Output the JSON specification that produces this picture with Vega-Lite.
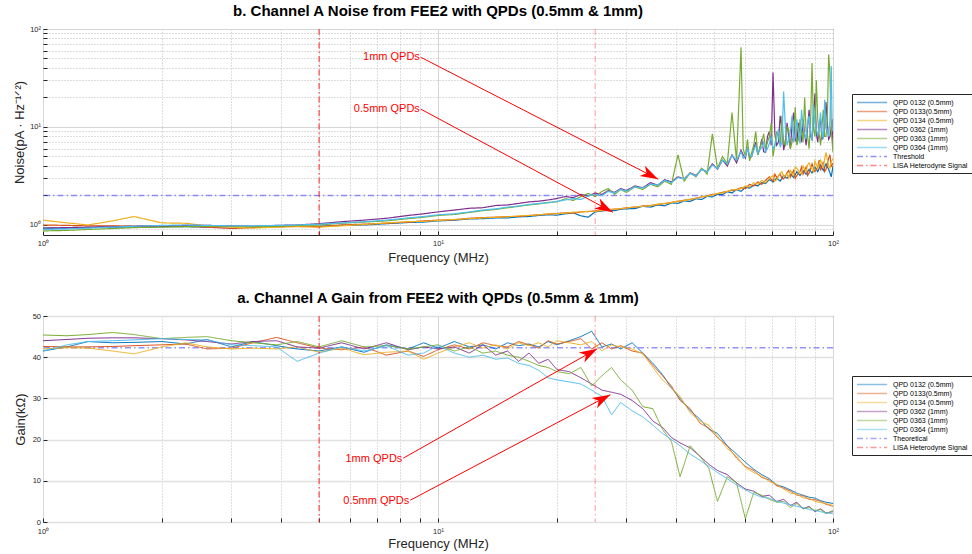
{
"$schema":"https://vega.github.io/schema/vega-lite/v6.json",
"background":"white",
"padding":{"left":12,"top":3,"right":0,"bottom":0},
"config":{
 "font":"Liberation Sans",
 "view":{"stroke":"#262626","strokeWidth":1},
 "title":{"fontSize":15,"fontWeight":"bold","anchor":"middle","offset":6,"color":"black","font":"Liberation Sans"},
 "legend":{"symbolType":"M-1,0H7.6","symbolSize":49,"symbolStrokeWidth":1.5,"labelFontSize":7,"labelOffset":28,"rowPadding":1,"padding":4,"strokeColor":"#262626","fillColor":"white","labelColor":"black","labelFont":"Liberation Sans"}
},
"datasets":{
"tb":[{"f":1,"v":0.93},{"f":1.15,"v":0.93},{"f":1.3,"v":0.94},{"f":1.5,"v":0.95},{"f":1.7,"v":0.95},{"f":2,"v":0.96},{"f":2.3,"v":0.96},{"f":2.6,"v":0.95},{"f":3,"v":0.96},{"f":3.4,"v":0.95},{"f":3.9,"v":0.96},{"f":4.4,"v":0.97},{"f":5,"v":0.97},{"f":5.7,"v":0.99},{"f":6.5,"v":1.0},{"f":7.4,"v":1.03},{"f":8.4,"v":1.06},{"f":9.2,"v":1.07},{"f":10,"v":1.1},{"f":11,"v":1.12},{"f":12,"v":1.15},{"f":13,"v":1.16},{"f":14,"v":1.18},{"f":15,"v":1.18},{"f":16,"v":1.21},{"f":17,"v":1.22},{"f":18,"v":1.25},{"f":19,"v":1.27},{"f":20,"v":1.26},{"f":21,"v":1.3},{"f":22,"v":1.33},{"f":23,"v":1.24},{"f":24,"v":1.2},{"f":25,"v":1.36},{"f":26,"v":1.39},{"f":27,"v":1.41},{"f":28,"v":1.4},{"f":29,"v":1.45},{"f":30,"v":1.46},{"f":31.5,"v":1.47},{"f":33,"v":1.55},{"f":34.5,"v":1.52},{"f":36,"v":1.6},{"f":37.5,"v":1.57},{"f":39,"v":1.68},{"f":40.5,"v":1.66},{"f":42,"v":1.76},{"f":43.5,"v":1.74},{"f":45,"v":1.85},{"f":46.5,"v":1.82},{"f":48,"v":1.96},{"f":49.5,"v":1.93},{"f":51,"v":2.06},{"f":52.5,"v":2.04},{"f":54,"v":2.18},{"f":55.5,"v":2.12},{"f":57,"v":2.3},{"f":58.5,"v":2.2},{"f":60,"v":2.42},{"f":61.5,"v":2.38},{"f":63,"v":2.55},{"f":64.5,"v":2.5},{"f":66,"v":2.7},{"f":67.5,"v":2.65},{"f":69,"v":2.9},{"f":70.5,"v":2.75},{"f":72,"v":3.0},{"f":73.5,"v":2.8},{"f":75,"v":3.2},{"f":76.5,"v":3.0},{"f":78,"v":3.3},{"f":79.5,"v":3.05},{"f":81,"v":3.5},{"f":82.5,"v":3.2},{"f":84,"v":3.6},{"f":85.5,"v":3.3},{"f":87,"v":3.7},{"f":88.5,"v":3.4},{"f":90,"v":3.9},{"f":91.5,"v":3.5},{"f":93,"v":4.1},{"f":94.5,"v":3.6},{"f":96,"v":4.2},{"f":97.5,"v":3.7},{"f":99,"v":3.1},{"f":100,"v":4.0}],
"to":[{"f":1,"v":1.0},{"f":1.15,"v":0.99},{"f":1.3,"v":0.98},{"f":1.5,"v":0.98},{"f":1.7,"v":0.97},{"f":2,"v":0.98},{"f":2.3,"v":0.97},{"f":2.6,"v":0.95},{"f":3,"v":0.92},{"f":3.4,"v":0.94},{"f":3.9,"v":0.96},{"f":4.4,"v":0.97},{"f":5,"v":0.96},{"f":5.7,"v":1.0},{"f":6.5,"v":1.02},{"f":7.4,"v":1.04},{"f":8.4,"v":1.07},{"f":9.2,"v":1.1},{"f":10,"v":1.12},{"f":11,"v":1.13},{"f":12,"v":1.17},{"f":13,"v":1.19},{"f":14,"v":1.2},{"f":15,"v":1.22},{"f":16,"v":1.22},{"f":17,"v":1.25},{"f":18,"v":1.27},{"f":19,"v":1.29},{"f":20,"v":1.31},{"f":21,"v":1.33},{"f":22,"v":1.32},{"f":23,"v":1.36},{"f":24,"v":1.37},{"f":25,"v":1.39},{"f":26,"v":1.4},{"f":27,"v":1.43},{"f":28,"v":1.45},{"f":29,"v":1.46},{"f":30,"v":1.5},{"f":31.5,"v":1.52},{"f":33,"v":1.56},{"f":34.5,"v":1.58},{"f":36,"v":1.62},{"f":37.5,"v":1.65},{"f":39,"v":1.7},{"f":40.5,"v":1.74},{"f":42,"v":1.79},{"f":43.5,"v":1.82},{"f":45,"v":1.88},{"f":46.5,"v":1.93},{"f":48,"v":1.98},{"f":49.5,"v":2.05},{"f":51,"v":2.08},{"f":52.5,"v":2.15},{"f":54,"v":2.2},{"f":55.5,"v":2.25},{"f":57,"v":2.3},{"f":58.5,"v":2.4},{"f":60,"v":2.35},{"f":61.5,"v":2.6},{"f":63,"v":2.5},{"f":64.5,"v":2.75},{"f":66,"v":2.6},{"f":67.5,"v":2.85},{"f":69,"v":3.1},{"f":70.5,"v":2.8},{"f":72,"v":3.05},{"f":73.5,"v":3.3},{"f":75,"v":2.95},{"f":76.5,"v":3.4},{"f":78,"v":3.1},{"f":79.5,"v":3.6},{"f":81,"v":3.2},{"f":82.5,"v":3.5},{"f":84,"v":3.3},{"f":85.5,"v":3.9},{"f":87,"v":3.4},{"f":88.5,"v":4.2},{"f":90,"v":3.5},{"f":91.5,"v":3.9},{"f":93,"v":3.6},{"f":94.5,"v":4.4},{"f":96,"v":3.7},{"f":97.5,"v":4.8},{"f":99,"v":3.9},{"f":100,"v":4.3},{"f":71.25,"v":3.3},{"f":74.25,"v":3.0},{"f":77.25,"v":3.6},{"f":80.25,"v":3.0},{"f":83.25,"v":3.9},{"f":86.25,"v":3.2},{"f":89.25,"v":3.8},{"f":92.25,"v":4.6},{"f":95.25,"v":3.5},{"f":98.25,"v":5.2}],
"ty":[{"f":1,"v":1.12},{"f":1.15,"v":1.05},{"f":1.3,"v":1.0},{"f":1.5,"v":1.1},{"f":1.7,"v":1.22},{"f":2,"v":1.05},{"f":2.3,"v":1.04},{"f":2.6,"v":0.98},{"f":3,"v":0.95},{"f":3.4,"v":0.93},{"f":3.9,"v":0.95},{"f":4.4,"v":0.96},{"f":5,"v":0.95},{"f":5.7,"v":0.98},{"f":6.5,"v":1.01},{"f":7.4,"v":1.05},{"f":8.4,"v":1.08},{"f":9.2,"v":1.09},{"f":10,"v":1.11},{"f":11,"v":1.14},{"f":12,"v":1.16},{"f":13,"v":1.18},{"f":14,"v":1.2},{"f":15,"v":1.21},{"f":16,"v":1.24},{"f":17,"v":1.25},{"f":18,"v":1.27},{"f":19,"v":1.3},{"f":20,"v":1.3},{"f":21,"v":1.32},{"f":22,"v":1.35},{"f":23,"v":1.36},{"f":24,"v":1.38},{"f":25,"v":1.38},{"f":26,"v":1.41},{"f":27,"v":1.44},{"f":28,"v":1.44},{"f":29,"v":1.47},{"f":30,"v":1.49},{"f":31.5,"v":1.53},{"f":33,"v":1.55},{"f":34.5,"v":1.57},{"f":36,"v":1.63},{"f":37.5,"v":1.66},{"f":39,"v":1.69},{"f":40.5,"v":1.75},{"f":42,"v":1.77},{"f":43.5,"v":1.83},{"f":45,"v":1.87},{"f":46.5,"v":1.95},{"f":48,"v":1.97},{"f":49.5,"v":2.02},{"f":51,"v":2.1},{"f":52.5,"v":2.12},{"f":54,"v":2.2},{"f":55.5,"v":2.3},{"f":57,"v":2.28},{"f":58.5,"v":2.35},{"f":60,"v":2.5},{"f":61.5,"v":2.45},{"f":63,"v":2.7},{"f":64.5,"v":2.6},{"f":66,"v":2.85},{"f":67.5,"v":2.7},{"f":69,"v":3.0},{"f":70.5,"v":3.2},{"f":72,"v":2.9},{"f":73.5,"v":3.4},{"f":75,"v":3.1},{"f":76.5,"v":3.3},{"f":78,"v":3.6},{"f":79.5,"v":3.2},{"f":81,"v":3.8},{"f":82.5,"v":3.4},{"f":84,"v":4.0},{"f":85.5,"v":3.5},{"f":87,"v":4.3},{"f":88.5,"v":3.7},{"f":90,"v":4.5},{"f":91.5,"v":3.8},{"f":93,"v":4.6},{"f":94.5,"v":3.9},{"f":96,"v":5.5},{"f":97.5,"v":4.0},{"f":99,"v":4.4},{"f":100,"v":4.8},{"f":71.25,"v":2.8},{"f":74.25,"v":3.5},{"f":77.25,"v":3.0},{"f":80.25,"v":3.9},{"f":83.25,"v":3.3},{"f":86.25,"v":4.1},{"f":89.25,"v":3.5},{"f":92.25,"v":4.2},{"f":95.25,"v":4.7},{"f":98.25,"v":3.8}],
"tp":[{"f":1,"v":0.93},{"f":1.15,"v":0.94},{"f":1.3,"v":0.95},{"f":1.5,"v":0.96},{"f":1.7,"v":0.97},{"f":2,"v":0.98},{"f":2.3,"v":0.99},{"f":2.6,"v":0.99},{"f":3,"v":0.98},{"f":3.4,"v":0.97},{"f":3.9,"v":0.99},{"f":4.4,"v":1.0},{"f":5,"v":1.03},{"f":5.7,"v":1.08},{"f":6.5,"v":1.12},{"f":7.4,"v":1.17},{"f":8.4,"v":1.25},{"f":9.2,"v":1.3},{"f":10,"v":1.36},{"f":11,"v":1.42},{"f":12,"v":1.48},{"f":13,"v":1.5},{"f":14,"v":1.58},{"f":15,"v":1.6},{"f":16,"v":1.66},{"f":17,"v":1.72},{"f":18,"v":1.75},{"f":19,"v":1.8},{"f":20,"v":1.86},{"f":21,"v":1.95},{"f":22,"v":1.9},{"f":23,"v":2.05},{"f":24,"v":1.98},{"f":25,"v":2.12},{"f":26,"v":2.05},{"f":27,"v":2.25},{"f":28,"v":2.15},{"f":29,"v":2.35},{"f":30,"v":2.25},{"f":31.5,"v":2.5},{"f":33,"v":2.4},{"f":34.5,"v":2.7},{"f":36,"v":2.55},{"f":37.5,"v":2.9},{"f":39,"v":2.75},{"f":40.5,"v":3.1},{"f":42,"v":2.95},{"f":43.5,"v":3.4},{"f":45,"v":3.2},{"f":46.5,"v":3.7},{"f":48,"v":3.5},{"f":49.5,"v":4.2},{"f":51,"v":3.7},{"f":52.5,"v":4.6},{"f":54,"v":4.0},{"f":55.5,"v":5.2},{"f":57,"v":4.3},{"f":58.5,"v":5.8},{"f":60,"v":4.8},{"f":61.5,"v":4.8},{"f":63,"v":6.0},{"f":64.5,"v":5.2},{"f":66,"v":7.5},{"f":67.5,"v":5.5},{"f":69,"v":9.0},{"f":70.5,"v":36.0},{"f":72,"v":6.5},{"f":73.5,"v":13.0},{"f":75,"v":5.8},{"f":76.5,"v":11.0},{"f":78,"v":6.0},{"f":79.5,"v":14.0},{"f":81,"v":6.8},{"f":82.5,"v":9.0},{"f":84,"v":12.0},{"f":85.5,"v":6.5},{"f":87,"v":15.0},{"f":88.5,"v":7.5},{"f":90,"v":22.0},{"f":91.5,"v":7.0},{"f":93,"v":12.0},{"f":94.5,"v":8.0},{"f":96,"v":18.0},{"f":97.5,"v":7.5},{"f":99,"v":10.0},{"f":100,"v":6.0},{"f":59.25,"v":5.2},{"f":60.75,"v":6.2},{"f":62.25,"v":5.0},{"f":63.75,"v":7.0},{"f":65.25,"v":6.0},{"f":66.75,"v":5.6},{"f":68.25,"v":8.0},{"f":69.75,"v":6.5},{"f":71.25,"v":8.5},{"f":72.75,"v":7.0},{"f":74.25,"v":9.5},{"f":75.75,"v":7.2},{"f":77.25,"v":8.0},{"f":78.75,"v":10.5},{"f":80.25,"v":7.5},{"f":81.75,"v":11.0},{"f":83.25,"v":7.0},{"f":84.75,"v":8.5},{"f":86.25,"v":10.0},{"f":87.75,"v":8.0},{"f":89.25,"v":13.0},{"f":90.75,"v":8.5},{"f":92.25,"v":10.5},{"f":93.75,"v":7.5},{"f":95.25,"v":9.5},{"f":96.75,"v":11.0},{"f":98.25,"v":8.0},{"f":99.5,"v":12.0}],
"tg":[{"f":1,"v":0.87},{"f":1.15,"v":0.88},{"f":1.3,"v":0.9},{"f":1.5,"v":0.92},{"f":1.7,"v":0.94},{"f":2,"v":0.95},{"f":2.3,"v":0.96},{"f":2.6,"v":0.97},{"f":3,"v":0.97},{"f":3.4,"v":0.96},{"f":3.9,"v":0.97},{"f":4.4,"v":0.99},{"f":5,"v":1.0},{"f":5.7,"v":1.04},{"f":6.5,"v":1.07},{"f":7.4,"v":1.1},{"f":8.4,"v":1.16},{"f":9.2,"v":1.2},{"f":10,"v":1.25},{"f":11,"v":1.28},{"f":12,"v":1.34},{"f":13,"v":1.4},{"f":14,"v":1.44},{"f":15,"v":1.5},{"f":16,"v":1.55},{"f":17,"v":1.6},{"f":18,"v":1.64},{"f":19,"v":1.7},{"f":20,"v":1.72},{"f":21,"v":1.85},{"f":22,"v":1.78},{"f":23,"v":1.95},{"f":24,"v":2.1},{"f":25,"v":1.95},{"f":26,"v":2.2},{"f":27,"v":2.35},{"f":28,"v":2.05},{"f":29,"v":2.3},{"f":30,"v":2.15},{"f":31.5,"v":2.45},{"f":33,"v":2.3},{"f":34.5,"v":2.6},{"f":36,"v":2.45},{"f":37.5,"v":2.8},{"f":39,"v":2.6},{"f":40.5,"v":5.2},{"f":42,"v":2.8},{"f":43.5,"v":3.4},{"f":45,"v":3.1},{"f":46.5,"v":3.8},{"f":48,"v":3.3},{"f":49.5,"v":8.5},{"f":51,"v":3.8},{"f":52.5,"v":5.0},{"f":54,"v":4.2},{"f":55.5,"v":14.0},{"f":57,"v":4.5},{"f":58.5,"v":65.0},{"f":60,"v":5.0},{"f":61.5,"v":4.5},{"f":63,"v":6.5},{"f":64.5,"v":5.2},{"f":66,"v":7.0},{"f":67.5,"v":6.0},{"f":69,"v":8.0},{"f":70.5,"v":5.0},{"f":72,"v":9.0},{"f":73.5,"v":6.5},{"f":75,"v":7.0},{"f":76.5,"v":10.0},{"f":78,"v":6.0},{"f":79.5,"v":8.5},{"f":81,"v":6.5},{"f":82.5,"v":12.0},{"f":84,"v":7.0},{"f":85.5,"v":9.0},{"f":87,"v":6.0},{"f":88.5,"v":45.0},{"f":90,"v":8.0},{"f":91.5,"v":12.0},{"f":93,"v":6.5},{"f":94.5,"v":15.0},{"f":96,"v":8.0},{"f":97.5,"v":55.0},{"f":99,"v":9.0},{"f":100,"v":5.5},{"f":59.25,"v":6.0},{"f":60.75,"v":7.5},{"f":62.25,"v":5.5},{"f":63.75,"v":9.0},{"f":65.25,"v":6.0},{"f":66.75,"v":8.5},{"f":68.25,"v":7.0},{"f":69.75,"v":11.0},{"f":71.25,"v":6.5},{"f":72.75,"v":8.0},{"f":74.25,"v":13.0},{"f":75.75,"v":6.5},{"f":77.25,"v":9.5},{"f":78.75,"v":7.0},{"f":80.25,"v":16.0},{"f":81.75,"v":7.5},{"f":83.25,"v":9.0},{"f":84.75,"v":20.0},{"f":86.25,"v":8.0},{"f":87.75,"v":11.0},{"f":89.25,"v":9.5},{"f":90.75,"v":30.0},{"f":92.25,"v":8.5},{"f":93.75,"v":10.0},{"f":95.25,"v":8.0},{"f":96.75,"v":12.0},{"f":98.25,"v":35.0},{"f":99.5,"v":7.0}],
"tc":[{"f":1,"v":0.9},{"f":1.15,"v":0.91},{"f":1.3,"v":0.93},{"f":1.5,"v":0.95},{"f":1.7,"v":0.97},{"f":2,"v":0.99},{"f":2.3,"v":1.0},{"f":2.6,"v":0.99},{"f":3,"v":0.98},{"f":3.4,"v":0.98},{"f":3.9,"v":0.99},{"f":4.4,"v":1.0},{"f":5,"v":1.02},{"f":5.7,"v":1.05},{"f":6.5,"v":1.08},{"f":7.4,"v":1.12},{"f":8.4,"v":1.18},{"f":9.2,"v":1.22},{"f":10,"v":1.27},{"f":11,"v":1.3},{"f":12,"v":1.36},{"f":13,"v":1.42},{"f":14,"v":1.46},{"f":15,"v":1.52},{"f":16,"v":1.56},{"f":17,"v":1.62},{"f":18,"v":1.66},{"f":19,"v":1.68},{"f":20,"v":1.74},{"f":21,"v":1.8},{"f":22,"v":1.86},{"f":23,"v":1.82},{"f":24,"v":1.98},{"f":25,"v":2.05},{"f":26,"v":2.0},{"f":27,"v":2.2},{"f":28,"v":2.12},{"f":29,"v":2.3},{"f":30,"v":2.22},{"f":31.5,"v":2.45},{"f":33,"v":2.38},{"f":34.5,"v":2.62},{"f":36,"v":2.55},{"f":37.5,"v":2.85},{"f":39,"v":2.7},{"f":40.5,"v":3.05},{"f":42,"v":2.95},{"f":43.5,"v":3.35},{"f":45,"v":3.15},{"f":46.5,"v":3.7},{"f":48,"v":3.45},{"f":49.5,"v":4.1},{"f":51,"v":3.75},{"f":52.5,"v":4.6},{"f":54,"v":4.2},{"f":55.5,"v":5.1},{"f":57,"v":4.6},{"f":58.5,"v":5.6},{"f":60,"v":5.0},{"f":61.5,"v":5.2},{"f":63,"v":5.8},{"f":64.5,"v":5.4},{"f":66,"v":6.2},{"f":67.5,"v":5.6},{"f":69,"v":6.8},{"f":70.5,"v":6.0},{"f":72,"v":7.5},{"f":73.5,"v":6.2},{"f":75,"v":23.0},{"f":76.5,"v":6.5},{"f":78,"v":9.0},{"f":79.5,"v":7.0},{"f":81,"v":12.0},{"f":82.5,"v":6.8},{"f":84,"v":10.0},{"f":85.5,"v":7.5},{"f":87,"v":13.0},{"f":88.5,"v":7.2},{"f":90,"v":11.0},{"f":91.5,"v":8.0},{"f":93,"v":14.0},{"f":94.5,"v":7.5},{"f":96,"v":10.0},{"f":97.5,"v":8.0},{"f":99,"v":42.0},{"f":100,"v":9.0},{"f":59.25,"v":4.8},{"f":60.75,"v":6.0},{"f":62.25,"v":5.0},{"f":63.75,"v":6.5},{"f":65.25,"v":5.8},{"f":66.75,"v":7.0},{"f":68.25,"v":6.0},{"f":69.75,"v":8.0},{"f":71.25,"v":6.5},{"f":72.75,"v":9.5},{"f":74.25,"v":7.0},{"f":75.75,"v":10.0},{"f":77.25,"v":7.5},{"f":78.75,"v":13.0},{"f":80.25,"v":8.0},{"f":81.75,"v":9.0},{"f":83.25,"v":15.0},{"f":84.75,"v":8.5},{"f":86.25,"v":11.0},{"f":87.75,"v":9.0},{"f":89.25,"v":17.0},{"f":90.75,"v":9.5},{"f":92.25,"v":10.0},{"f":93.75,"v":9.0},{"f":95.25,"v":19.0},{"f":96.75,"v":9.0},{"f":98.25,"v":12.0},{"f":99.5,"v":10.0}],
"gb":[{"f":1,"v":41.5},{"f":1.15,"v":42.5},{"f":1.3,"v":43.8},{"f":1.5,"v":43.5},{"f":1.7,"v":43.6},{"f":2,"v":43.8},{"f":2.3,"v":43.2},{"f":2.6,"v":44.3},{"f":3,"v":42.5},{"f":3.4,"v":43.8},{"f":3.9,"v":42.8},{"f":4.4,"v":42.0},{"f":5,"v":41.5},{"f":5.7,"v":42.5},{"f":6.5,"v":41.2},{"f":7.4,"v":43.0},{"f":8.4,"v":42.0},{"f":9.2,"v":43.5},{"f":10,"v":42.2},{"f":11,"v":43.8},{"f":12,"v":42.5},{"f":13,"v":43.0},{"f":14,"v":42.0},{"f":15,"v":43.5},{"f":16,"v":42.8},{"f":17,"v":43.2},{"f":18,"v":42.5},{"f":19,"v":43.8},{"f":20,"v":43.0},{"f":21.5,"v":44.0},{"f":23,"v":45.0},{"f":24.5,"v":46.3},{"f":26,"v":42.5},{"f":27.5,"v":43.2},{"f":29,"v":42.0},{"f":31,"v":43.5},{"f":33,"v":41.0},{"f":35,"v":38.5},{"f":37,"v":35.8},{"f":39,"v":32.5},{"f":41,"v":30.0},{"f":43.5,"v":27.0},{"f":46,"v":25.0},{"f":48.5,"v":22.5},{"f":51,"v":21.5},{"f":54,"v":18.5},{"f":57,"v":16.5},{"f":60,"v":14.5},{"f":63,"v":12.8},{"f":66,"v":11.5},{"f":69,"v":10.5},{"f":72,"v":9.0},{"f":75,"v":8.5},{"f":78,"v":7.8},{"f":81,"v":7.0},{"f":84,"v":6.5},{"f":87,"v":6.0},{"f":90,"v":5.8},{"f":93,"v":5.2},{"f":96,"v":4.8},{"f":100,"v":4.5}],
"go":[{"f":1,"v":42.6},{"f":1.15,"v":42.5},{"f":1.3,"v":42.5},{"f":1.5,"v":42.6},{"f":1.7,"v":42.8},{"f":2,"v":43.0},{"f":2.3,"v":43.2},{"f":2.6,"v":42.0},{"f":3,"v":42.2},{"f":3.4,"v":43.5},{"f":3.9,"v":44.8},{"f":4.4,"v":43.5},{"f":5,"v":42.2},{"f":5.7,"v":41.8},{"f":6.5,"v":42.5},{"f":7.4,"v":40.5},{"f":8.4,"v":41.5},{"f":9.2,"v":40.2},{"f":10,"v":41.8},{"f":11,"v":43.0},{"f":12,"v":42.0},{"f":13,"v":43.5},{"f":14,"v":42.8},{"f":15,"v":42.5},{"f":16,"v":43.8},{"f":17,"v":43.0},{"f":18,"v":42.2},{"f":19,"v":44.0},{"f":20,"v":43.2},{"f":21.5,"v":43.8},{"f":23,"v":44.5},{"f":24.5,"v":42.0},{"f":26,"v":43.5},{"f":27.5,"v":42.0},{"f":29,"v":42.8},{"f":31,"v":41.5},{"f":33,"v":41.0},{"f":35,"v":38.0},{"f":37,"v":35.5},{"f":39,"v":33.0},{"f":41,"v":29.5},{"f":43.5,"v":27.5},{"f":46,"v":24.0},{"f":48.5,"v":22.8},{"f":51,"v":20.5},{"f":54,"v":18.5},{"f":57,"v":15.5},{"f":60,"v":13.5},{"f":63,"v":12.5},{"f":66,"v":10.8},{"f":69,"v":10.2},{"f":72,"v":8.8},{"f":75,"v":8.2},{"f":78,"v":7.5},{"f":81,"v":6.5},{"f":84,"v":6.3},{"f":87,"v":5.5},{"f":90,"v":5.4},{"f":93,"v":5.0},{"f":96,"v":4.3},{"f":100,"v":3.8}],
"gy":[{"f":1,"v":42.0},{"f":1.15,"v":42.3},{"f":1.3,"v":42.2},{"f":1.5,"v":41.5},{"f":1.7,"v":40.8},{"f":2,"v":42.5},{"f":2.3,"v":43.5},{"f":2.6,"v":42.5},{"f":3,"v":42.0},{"f":3.4,"v":42.2},{"f":3.9,"v":42.0},{"f":4.4,"v":42.5},{"f":5,"v":41.2},{"f":5.7,"v":42.2},{"f":6.5,"v":40.6},{"f":7.4,"v":41.2},{"f":8.4,"v":41.5},{"f":9.2,"v":39.5},{"f":10,"v":41.0},{"f":11,"v":42.5},{"f":12,"v":43.5},{"f":13,"v":42.2},{"f":14,"v":43.0},{"f":15,"v":42.0},{"f":16,"v":43.5},{"f":17,"v":42.8},{"f":18,"v":43.5},{"f":19,"v":42.5},{"f":20,"v":44.0},{"f":21.5,"v":43.5},{"f":23,"v":43.0},{"f":24.5,"v":43.8},{"f":26,"v":41.5},{"f":27.5,"v":43.0},{"f":29,"v":42.5},{"f":31,"v":42.0},{"f":33,"v":40.8},{"f":35,"v":37.5},{"f":37,"v":34.5},{"f":39,"v":32.5},{"f":41,"v":30.5},{"f":43.5,"v":26.5},{"f":46,"v":24.5},{"f":48.5,"v":23.5},{"f":51,"v":20.8},{"f":54,"v":17.8},{"f":57,"v":16.0},{"f":60,"v":13.2},{"f":63,"v":12.0},{"f":66,"v":11.2},{"f":69,"v":9.8},{"f":72,"v":9.2},{"f":75,"v":8.0},{"f":78,"v":7.0},{"f":81,"v":6.8},{"f":84,"v":5.8},{"f":87,"v":5.8},{"f":90,"v":5.0},{"f":93,"v":4.7},{"f":96,"v":4.5},{"f":100,"v":4.0}],
"gp":[{"f":1,"v":44.0},{"f":1.15,"v":44.3},{"f":1.3,"v":44.6},{"f":1.5,"v":44.7},{"f":1.7,"v":44.7},{"f":2,"v":44.5},{"f":2.3,"v":44.2},{"f":2.6,"v":43.8},{"f":3,"v":43.2},{"f":3.4,"v":43.8},{"f":3.9,"v":44.0},{"f":4.4,"v":42.5},{"f":5,"v":42.2},{"f":5.7,"v":43.5},{"f":6.5,"v":42.0},{"f":7.4,"v":43.5},{"f":8.4,"v":41.8},{"f":9.2,"v":42.5},{"f":10,"v":42.0},{"f":11,"v":42.5},{"f":12,"v":41.0},{"f":13,"v":43.0},{"f":14,"v":40.5},{"f":15,"v":41.5},{"f":16,"v":39.0},{"f":17,"v":41.0},{"f":18,"v":38.5},{"f":19,"v":39.5},{"f":20,"v":37.0},{"f":21.5,"v":36.5},{"f":23,"v":35.0},{"f":24.5,"v":33.5},{"f":26,"v":32.0},{"f":27.5,"v":31.5},{"f":29,"v":31.0},{"f":31,"v":29.5},{"f":33,"v":27.5},{"f":35,"v":24.5},{"f":37,"v":23.0},{"f":39,"v":20.5},{"f":41,"v":19.2},{"f":43.5,"v":18.0},{"f":46,"v":16.0},{"f":48.5,"v":14.0},{"f":51,"v":12.5},{"f":54,"v":11.5},{"f":57,"v":9.5},{"f":60,"v":8.0},{"f":63,"v":7.5},{"f":66,"v":6.2},{"f":69,"v":6.5},{"f":72,"v":5.0},{"f":75,"v":5.5},{"f":78,"v":4.0},{"f":81,"v":4.8},{"f":84,"v":3.2},{"f":87,"v":3.8},{"f":90,"v":2.5},{"f":93,"v":3.2},{"f":96,"v":2.2},{"f":100,"v":2.5}],
"gg":[{"f":1,"v":45.4},{"f":1.15,"v":45.2},{"f":1.3,"v":45.5},{"f":1.5,"v":46.0},{"f":1.7,"v":45.5},{"f":2,"v":44.5},{"f":2.3,"v":44.8},{"f":2.6,"v":45.0},{"f":3,"v":44.0},{"f":3.4,"v":43.5},{"f":3.9,"v":43.0},{"f":4.4,"v":43.8},{"f":5,"v":42.5},{"f":5.7,"v":44.0},{"f":6.5,"v":42.5},{"f":7.4,"v":42.8},{"f":8.4,"v":42.0},{"f":9.2,"v":42.5},{"f":10,"v":43.0},{"f":11,"v":41.5},{"f":12,"v":42.5},{"f":13,"v":41.0},{"f":14,"v":41.5},{"f":15,"v":40.5},{"f":16,"v":40.0},{"f":17,"v":39.0},{"f":18,"v":38.0},{"f":19,"v":37.5},{"f":20,"v":36.5},{"f":21.5,"v":36.0},{"f":23,"v":37.5},{"f":24.5,"v":33.0},{"f":26,"v":35.5},{"f":27.5,"v":37.5},{"f":29,"v":34.5},{"f":31,"v":32.0},{"f":33,"v":28.0},{"f":35,"v":27.5},{"f":37,"v":22.5},{"f":39,"v":19.5},{"f":41,"v":11.0},{"f":43.5,"v":18.5},{"f":46,"v":16.0},{"f":48.5,"v":13.0},{"f":51,"v":5.0},{"f":54,"v":11.0},{"f":57,"v":9.5},{"f":60,"v":0.8},{"f":63,"v":7.2},{"f":66,"v":6.5},{"f":69,"v":5.5},{"f":72,"v":4.8},{"f":75,"v":5.0},{"f":78,"v":3.5},{"f":81,"v":4.5},{"f":84,"v":3.2},{"f":87,"v":3.5},{"f":90,"v":2.8},{"f":93,"v":3.0},{"f":96,"v":2.0},{"f":100,"v":2.8}],
"gc":[{"f":1,"v":41.5},{"f":1.15,"v":43.0},{"f":1.3,"v":43.8},{"f":1.5,"v":44.0},{"f":1.7,"v":44.2},{"f":2,"v":44.5},{"f":2.3,"v":44.3},{"f":2.6,"v":44.2},{"f":3,"v":43.0},{"f":3.4,"v":42.8},{"f":3.9,"v":42.5},{"f":4.4,"v":39.0},{"f":5,"v":41.0},{"f":5.7,"v":42.5},{"f":6.5,"v":41.5},{"f":7.4,"v":42.8},{"f":8.4,"v":40.5},{"f":9.2,"v":41.0},{"f":10,"v":42.8},{"f":11,"v":41.0},{"f":12,"v":40.0},{"f":13,"v":40.5},{"f":14,"v":39.5},{"f":15,"v":39.8},{"f":16,"v":38.5},{"f":17,"v":38.0},{"f":18,"v":36.8},{"f":19,"v":35.0},{"f":20,"v":34.5},{"f":21.5,"v":34.0},{"f":23,"v":33.5},{"f":24.5,"v":32.0},{"f":26,"v":30.5},{"f":27.5,"v":26.0},{"f":29,"v":29.0},{"f":31,"v":27.0},{"f":33,"v":25.5},{"f":35,"v":23.5},{"f":37,"v":21.5},{"f":39,"v":20.0},{"f":41,"v":18.5},{"f":43.5,"v":16.5},{"f":46,"v":15.0},{"f":48.5,"v":13.5},{"f":51,"v":12.0},{"f":54,"v":10.5},{"f":57,"v":9.0},{"f":60,"v":7.8},{"f":63,"v":6.8},{"f":66,"v":6.0},{"f":69,"v":5.8},{"f":72,"v":5.0},{"f":75,"v":4.6},{"f":78,"v":4.2},{"f":81,"v":3.8},{"f":84,"v":3.5},{"f":87,"v":3.0},{"f":90,"v":2.8},{"f":93,"v":2.5},{"f":96,"v":2.2},{"f":100,"v":2.0}],
"annT":[{"label":"1mm QPDs","f":9.05,"v":51.4,"f2":36.1,"v2":2.93},{"label":"0.5mm QPDs","f":9.05,"v":15.2,"f2":27.7,"v2":1.35}],
"annB":[{"label":"1mm QPDs","f":8.17,"v":15.5,"f2":25.3,"v2":42.06},{"label":"0.5mm QPDs","f":8.51,"v":5.3,"f2":27.3,"v2":30.9}]
},
"bounds":"flush",
"spacing":81,
"resolve":{"scale":{"color":"independent","strokeDash":"independent"},"legend":{"color":"independent","strokeDash":"independent"}},
"vconcat":[
{
 "width":790,"height":206,
 "title":"b. Channel A Noise from FEE2 with QPDs (0.5mm & 1mm)",
 "layer":[
  {"data":{"values":[{"v":2}]},"mark":{"type":"rule","strokeWidth":1.5,"opacity":0.55},
   "encoding":{"y":{"field":"v","type":"quantitative","scale":{"type":"log","domain":[0.79,100],"nice":false},
     "axis":{"values":[0.9,1,2,3,4,5,6,7,8,9,10,20,30,40,50,60,70,80,90,100],"labelExpr":"datum.value==1?'10⁰':datum.value==10?'10¹':datum.value==100?'10²':''","labelOverlap":false,"labelFontSize":7.5,"labelColor":"#262626","labelPadding":6.5,"title":"Noise(pA · Hz⁻¹ᐟ²)","titleFontSize":13,"titleFontWeight":"normal","titleColor":"#262626","titlePadding":3,"domain":false,"tickColor":"#262626","tickSize":-4,"grid":true,"gridColor":{"condition":{"test":"datum.value==1||datum.value==10||datum.value==100","value":"#d6d6d6"},"value":"#bdbdbd"},"gridDash":{"condition":{"test":"datum.value==1||datum.value==10||datum.value==100","value":[]},"value":[1,2]}}},
    "color":{"datum":"Threshold","scale":{"domain":["QPD 0132 (0.5mm)","QPD 0133(0.5mm)","QPD 0134 (0.5mm)","QPD 0362 (1mm)","QPD 0363 (1mm)","QPD 0364 (1mm)","Threshold","LISA Heterodyne Signal"],"range":["#0072BD","#D95319","#EDB120","#7E2F8E","#77AC30","#4DBEEE","#3a3aff","#ff2020"]},"legend":{"title":null,"orient":"none","legendX":809,"legendY":65}},
    "strokeDash":{"datum":"Threshold","scale":{"domain":["QPD 0132 (0.5mm)","QPD 0133(0.5mm)","QPD 0134 (0.5mm)","QPD 0362 (1mm)","QPD 0363 (1mm)","QPD 0364 (1mm)","Threshold","LISA Heterodyne Signal"],"range":[[1,0],[1,0],[1,0],[1,0],[1,0],[1,0],[6,3,1.5,3],[6,3,1.5,3]]},"legend":{"title":null,"orient":"none","legendX":809,"legendY":65}}}},
  {"data":{"name":"tb"},"mark":{"type":"line","strokeWidth":1.2,"clip":true},
   "encoding":{"x":{"field":"f","type":"quantitative","scale":{"type":"log","domain":[1,100],"nice":false},
     "axis":{"values":[1,2,3,4,5,6,7,8,9,10,20,30,40,50,60,70,80,90,100],"labelExpr":"datum.value==1?'10⁰':datum.value==10?'10¹':datum.value==100?'10²':''","labelFlush":false,"labelOverlap":false,"labelFontSize":7.5,"labelColor":"#262626","labelPadding":8,"title":"Frequency (MHz)","titleFontSize":13,"titleFontWeight":"normal","titleColor":"#262626","titlePadding":5,"domain":false,"tickColor":"#262626","tickSize":-4,"grid":true,"gridColor":{"condition":{"test":"datum.value==1||datum.value==10||datum.value==100","value":"#d6d6d6"},"value":"#bdbdbd"},"gridDash":{"condition":{"test":"datum.value==1||datum.value==10||datum.value==100","value":[]},"value":[1,2]}}},
    "y":{"field":"v","type":"quantitative"},"color":{"datum":"QPD 0132 (0.5mm)"},"strokeDash":{"datum":"QPD 0132 (0.5mm)"}}},
  {"data":{"name":"to"},"mark":{"type":"line","strokeWidth":1.2,"clip":true},"encoding":{"x":{"field":"f","type":"quantitative"},"y":{"field":"v","type":"quantitative"},"color":{"datum":"QPD 0133(0.5mm)"},"strokeDash":{"datum":"QPD 0133(0.5mm)"}}},
  {"data":{"name":"ty"},"mark":{"type":"line","strokeWidth":1.2,"clip":true},"encoding":{"x":{"field":"f","type":"quantitative"},"y":{"field":"v","type":"quantitative"},"color":{"datum":"QPD 0134 (0.5mm)"},"strokeDash":{"datum":"QPD 0134 (0.5mm)"}}},
  {"data":{"name":"tp"},"mark":{"type":"line","strokeWidth":1.2,"clip":true},"encoding":{"x":{"field":"f","type":"quantitative"},"y":{"field":"v","type":"quantitative"},"color":{"datum":"QPD 0362 (1mm)"},"strokeDash":{"datum":"QPD 0362 (1mm)"}}},
  {"data":{"name":"tg"},"mark":{"type":"line","strokeWidth":1.2,"clip":true},"encoding":{"x":{"field":"f","type":"quantitative"},"y":{"field":"v","type":"quantitative"},"color":{"datum":"QPD 0363 (1mm)"},"strokeDash":{"datum":"QPD 0363 (1mm)"}}},
  {"data":{"name":"tc"},"mark":{"type":"line","strokeWidth":1.2,"clip":true},"encoding":{"x":{"field":"f","type":"quantitative"},"y":{"field":"v","type":"quantitative"},"color":{"datum":"QPD 0364 (1mm)"},"strokeDash":{"datum":"QPD 0364 (1mm)"}}},
  {"data":{"values":[{"f":5}]},"mark":{"type":"rule","strokeWidth":1},"encoding":{"x":{"field":"f","type":"quantitative"},"color":{"datum":"LISA Heterodyne Signal"},"strokeDash":{"datum":"LISA Heterodyne Signal"}}},
  {"data":{"values":[{"f":25}]},"mark":{"type":"rule","strokeWidth":1,"opacity":0.45},"encoding":{"x":{"field":"f","type":"quantitative"},"color":{"datum":"LISA Heterodyne Signal"},"strokeDash":{"datum":"LISA Heterodyne Signal"}}},
  {"data":{"name":"annT"},"mark":{"type":"rule","color":"#ff0000","strokeWidth":1},"encoding":{"x":{"field":"f","type":"quantitative"},"y":{"field":"v","type":"quantitative"},"x2":{"field":"f2"},"y2":{"field":"v2"}}},
  {"data":{"name":"annT"},"mark":{"type":"text","color":"#ff0000","align":"right","baseline":"middle","fontSize":11,"dx":-1},"encoding":{"x":{"field":"f","type":"quantitative"},"y":{"field":"v","type":"quantitative"},"text":{"field":"label"}}},
  {"data":{"name":"annT"},"transform":[{"filter":"datum.label=='1mm QPDs'"}],"mark":{"type":"point","shape":"M0,0L-1,-0.32L-0.72,0L-1,0.32Z","size":1296,"filled":true,"color":"#ff0000","opacity":1,"angle":27.2,"strokeWidth":0},"encoding":{"x":{"field":"f2","type":"quantitative"},"y":{"field":"v2","type":"quantitative"}}},
  {"data":{"name":"annT"},"transform":[{"filter":"datum.label=='0.5mm QPDs'"}],"mark":{"type":"point","shape":"M0,0L-1,-0.32L-0.72,0L-1,0.32Z","size":1296,"filled":true,"color":"#ff0000","opacity":1,"angle":28.2,"strokeWidth":0},"encoding":{"x":{"field":"f2","type":"quantitative"},"y":{"field":"v2","type":"quantitative"}}}
 ]
},
{
 "width":790,"height":206,
 "title":"a. Channel A Gain from FEE2 with QPDs (0.5mm & 1mm)",
 "layer":[
  {"data":{"values":[{"v":42.3}]},"mark":{"type":"rule","strokeWidth":1.5,"opacity":0.55},
   "encoding":{"y":{"field":"v","type":"quantitative","scale":{"domain":[0,50],"nice":false},
     "axis":{"values":[0,5,10,15,20,25,30,35,40,45,50],"labelFontSize":7.5,"labelColor":"#262626","labelPadding":6.5,"title":"Gain(kΩ)","titleFontSize":13,"titleFontWeight":"normal","titleColor":"#262626","titlePadding":5,"domain":false,"tickColor":"#262626","tickSize":-4,"grid":true,"gridColor":"#e0e0e0","gridWidth":1.3}},
    "color":{"datum":"Theoretical","scale":{"domain":["QPD 0132 (0.5mm)","QPD 0133(0.5mm)","QPD 0134 (0.5mm)","QPD 0362 (1mm)","QPD 0363 (1mm)","QPD 0364 (1mm)","Theoretical","LISA Heterodyne Signal"],"range":["#0072BD","#D95319","#EDB120","#7E2F8E","#77AC30","#4DBEEE","#3a3aff","#ff2020"]},"legend":{"title":null,"orient":"none","legendX":809,"legendY":60,"symbolOpacity":1}},
    "strokeDash":{"datum":"Theoretical","scale":{"domain":["QPD 0132 (0.5mm)","QPD 0133(0.5mm)","QPD 0134 (0.5mm)","QPD 0362 (1mm)","QPD 0363 (1mm)","QPD 0364 (1mm)","Theoretical","LISA Heterodyne Signal"],"range":[[1,0],[1,0],[1,0],[1,0],[1,0],[1,0],[6,3,1.5,3],[6,3,1.5,3]]},"legend":{"title":null,"orient":"none","legendX":809,"legendY":60,"symbolOpacity":1}}}},
  {"data":{"name":"gb"},"mark":{"type":"line","strokeWidth":1,"clip":true},
   "encoding":{"x":{"field":"f","type":"quantitative","scale":{"type":"log","domain":[1,100],"nice":false},
     "axis":{"values":[1,2,3,4,5,6,7,8,9,10,20,30,40,50,60,70,80,90,100],"labelExpr":"datum.value==1?'10⁰':datum.value==10?'10¹':datum.value==100?'10²':''","labelFlush":false,"labelOverlap":false,"labelFontSize":7.5,"labelColor":"#262626","labelPadding":9,"title":"Frequency (MHz)","titleFontSize":13,"titleFontWeight":"normal","titleColor":"#262626","titlePadding":3,"domain":false,"tickColor":"#262626","tickSize":-4,"grid":true,"gridColor":{"condition":{"test":"datum.value==1||datum.value==10||datum.value==100","value":"#d6d6d6"},"value":"#bdbdbd"},"gridDash":{"condition":{"test":"datum.value==1||datum.value==10||datum.value==100","value":[]},"value":[1,2]}}},
    "y":{"field":"v","type":"quantitative"},"color":{"datum":"QPD 0132 (0.5mm)"},"strokeDash":{"datum":"QPD 0132 (0.5mm)"}}},
  {"data":{"name":"go"},"mark":{"type":"line","strokeWidth":1,"clip":true},"encoding":{"x":{"field":"f","type":"quantitative"},"y":{"field":"v","type":"quantitative"},"color":{"datum":"QPD 0133(0.5mm)"},"strokeDash":{"datum":"QPD 0133(0.5mm)"}}},
  {"data":{"name":"gy"},"mark":{"type":"line","strokeWidth":1,"clip":true},"encoding":{"x":{"field":"f","type":"quantitative"},"y":{"field":"v","type":"quantitative"},"color":{"datum":"QPD 0134 (0.5mm)"},"strokeDash":{"datum":"QPD 0134 (0.5mm)"}}},
  {"data":{"name":"gp"},"mark":{"type":"line","strokeWidth":1,"clip":true},"encoding":{"x":{"field":"f","type":"quantitative"},"y":{"field":"v","type":"quantitative"},"color":{"datum":"QPD 0362 (1mm)"},"strokeDash":{"datum":"QPD 0362 (1mm)"}}},
  {"data":{"name":"gg"},"mark":{"type":"line","strokeWidth":1,"clip":true},"encoding":{"x":{"field":"f","type":"quantitative"},"y":{"field":"v","type":"quantitative"},"color":{"datum":"QPD 0363 (1mm)"},"strokeDash":{"datum":"QPD 0363 (1mm)"}}},
  {"data":{"name":"gc"},"mark":{"type":"line","strokeWidth":1,"clip":true},"encoding":{"x":{"field":"f","type":"quantitative"},"y":{"field":"v","type":"quantitative"},"color":{"datum":"QPD 0364 (1mm)"},"strokeDash":{"datum":"QPD 0364 (1mm)"}}},
  {"data":{"values":[{"f":5}]},"mark":{"type":"rule","strokeWidth":1},"encoding":{"x":{"field":"f","type":"quantitative"},"color":{"datum":"LISA Heterodyne Signal"},"strokeDash":{"datum":"LISA Heterodyne Signal"}}},
  {"data":{"values":[{"f":25}]},"mark":{"type":"rule","strokeWidth":1,"opacity":0.45},"encoding":{"x":{"field":"f","type":"quantitative"},"color":{"datum":"LISA Heterodyne Signal"},"strokeDash":{"datum":"LISA Heterodyne Signal"}}},
  {"data":{"name":"annB"},"mark":{"type":"rule","color":"#ff0000","strokeWidth":1},"encoding":{"x":{"field":"f","type":"quantitative"},"y":{"field":"v","type":"quantitative"},"x2":{"field":"f2"},"y2":{"field":"v2"}}},
  {"data":{"name":"annB"},"mark":{"type":"text","color":"#ff0000","align":"right","baseline":"middle","fontSize":11,"dx":-1,"dy":1},"encoding":{"x":{"field":"f","type":"quantitative"},"y":{"field":"v","type":"quantitative"},"text":{"field":"label"}}},
  {"data":{"name":"annB"},"transform":[{"filter":"datum.label=='1mm QPDs'"}],"mark":{"type":"point","shape":"M0,0L-1,-0.32L-0.72,0L-1,0.32Z","size":1296,"filled":true,"color":"#ff0000","opacity":1,"angle":-29.4,"strokeWidth":0},"encoding":{"x":{"field":"f2","type":"quantitative"},"y":{"field":"v2","type":"quantitative"}}},
  {"data":{"name":"annB"},"transform":[{"filter":"datum.label=='0.5mm QPDs'"}],"mark":{"type":"point","shape":"M0,0L-1,-0.32L-0.72,0L-1,0.32Z","size":1296,"filled":true,"color":"#ff0000","opacity":1,"angle":-27.8,"strokeWidth":0},"encoding":{"x":{"field":"f2","type":"quantitative"},"y":{"field":"v2","type":"quantitative"}}}
 ]
}
]
}
